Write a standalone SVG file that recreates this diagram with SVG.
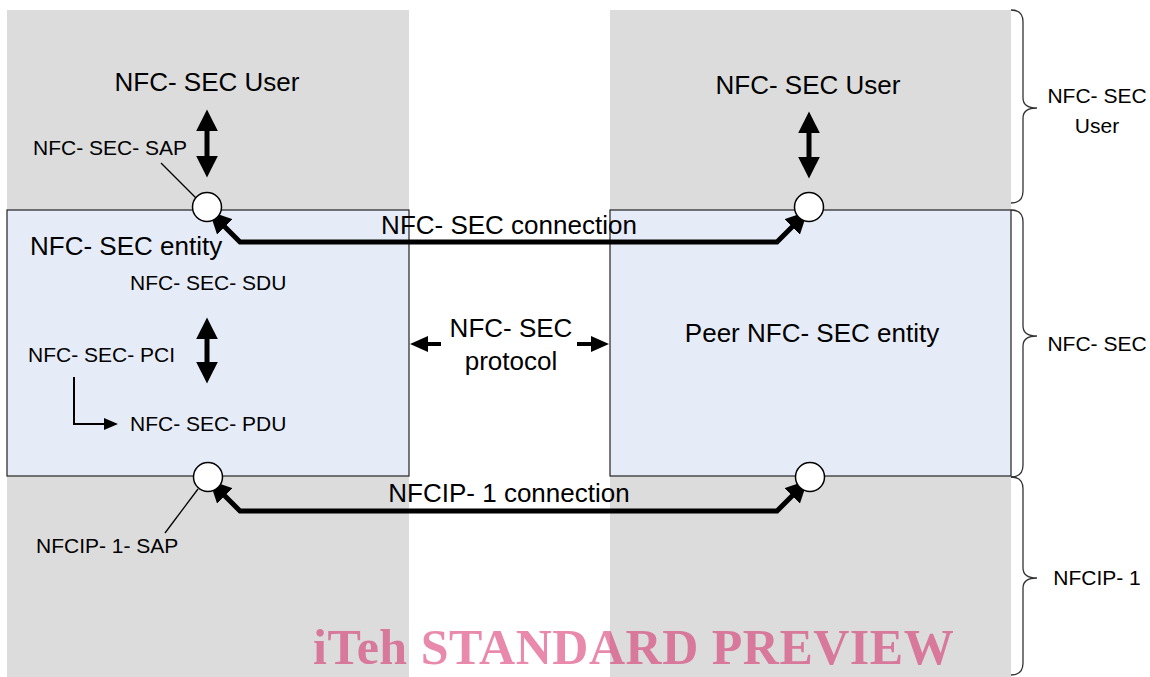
<svg xmlns="http://www.w3.org/2000/svg" width="1150" height="677" viewBox="0 0 1150 677">
<defs>
<style>
.col{fill:#dcdcdc;stroke:none}
.box{fill:#e6ecf7;stroke:#222;stroke-width:1.2}
.sap{fill:#fff;stroke:#000;stroke-width:1.5}
.big{font-family:"Liberation Sans",Arial,sans-serif;font-size:26px;fill:#000}
.sm{font-family:"Liberation Sans",Arial,sans-serif;font-size:21px;fill:#000}
.thick{fill:none;stroke:#000;stroke-width:5;stroke-linejoin:miter}
.med{fill:none;stroke:#000;stroke-width:4}
.thin{fill:none;stroke:#000;stroke-width:1.3}
.brace{fill:none;stroke:#333;stroke-width:1.3}
.wm{font-family:"Liberation Serif","Times New Roman",serif;font-weight:bold;font-size:50px;fill:#d4145a;fill-opacity:0.5;letter-spacing:0.5px}
</style>
<marker id="ah" markerUnits="userSpaceOnUse" markerWidth="22" markerHeight="22" viewBox="0 0 20 20" refX="14" refY="10" orient="auto-start-reverse">
<path d="M0,0 L20,10 L0,20 z" fill="#000"/>
</marker>
<marker id="ahm" markerUnits="userSpaceOnUse" markerWidth="18" markerHeight="16" viewBox="0 0 18 16" refX="12" refY="8" orient="auto-start-reverse">
<path d="M0,0 L18,8 L0,16 z" fill="#000"/>
</marker>
<marker id="ahs" markerUnits="userSpaceOnUse" markerWidth="14" markerHeight="12" viewBox="0 0 14 12" refX="10" refY="6" orient="auto">
<path d="M0,0 L14,6 L0,12 z" fill="#000"/>
</marker>
</defs>

<g id="columns">
<rect class="col" x="7" y="10" width="402" height="667"/>
<rect class="col" x="610" y="10" width="401" height="667"/>
</g>

<g id="entity-left">
<rect class="box" x="7" y="210" width="402" height="266"/>
<text class="big" x="30" y="255">NFC- SEC entity</text>
<text class="sm" x="130" y="290">NFC- SEC- SDU</text>
<text class="sm" x="28" y="362">NFC- SEC- PCI</text>
<text class="sm" x="130" y="431">NFC- SEC- PDU</text>
</g>

<g id="entity-right">
<rect class="box" x="610" y="210" width="401" height="266"/>
<text class="big" x="812" y="342" text-anchor="middle">Peer NFC- SEC entity</text>
</g>

<g id="user-left">
<text class="big" x="207" y="91" text-anchor="middle">NFC- SEC User</text>
</g>
<g id="user-right">
<text class="big" x="808" y="94" text-anchor="middle">NFC- SEC User</text>
</g>

<g id="sap-labels">
<text class="sm" x="33" y="155">NFC- SEC- SAP</text>
<text class="sm" x="36" y="553">NFCIP- 1- SAP</text>
</g>

<g id="protocol">
<text class="big" x="511" y="337" text-anchor="middle">NFC- SEC</text>
<text class="big" x="511" y="370" text-anchor="middle">protocol</text>
</g>

<g id="connectors">
<line class="thick" x1="207" y1="116" x2="207" y2="171" marker-start="url(#ah)" marker-end="url(#ah)"/>
<line class="thick" x1="809" y1="118" x2="809" y2="172" marker-start="url(#ah)" marker-end="url(#ah)"/>
<line class="thick" x1="207" y1="324" x2="207" y2="377" marker-start="url(#ah)" marker-end="url(#ah)"/>
<path class="thick" d="M214,216 L240,242 L777,242 L803,216" marker-start="url(#ah)" marker-end="url(#ah)"/>
<path class="thick" d="M214,485 L240,511 L777,511 L803,485" marker-start="url(#ah)" marker-end="url(#ah)"/>
<line class="med" x1="441" y1="344" x2="416" y2="344" marker-end="url(#ahm)"/>
<line class="med" x1="577" y1="344" x2="603" y2="344" marker-end="url(#ahm)"/>
<path class="thin" d="M74,377 L74,424 L114,424" marker-end="url(#ahs)" style="stroke-width:2"/>
<line class="thin" x1="161" y1="163" x2="197" y2="199"/>
<line class="thin" x1="165" y1="533" x2="198" y2="489"/>
</g>

<g id="saps">
<circle class="sap" cx="207" cy="207" r="14.5"/>
<circle class="sap" cx="809" cy="207" r="14.5"/>
<circle class="sap" cx="208" cy="477" r="14.5"/>
<circle class="sap" cx="810" cy="477" r="14.5"/>
</g>

<g id="connection-labels">
<text class="big" x="509" y="234" text-anchor="middle">NFC- SEC connection</text>
<text class="big" x="509" y="502" text-anchor="middle">NFCIP- 1 connection</text>
</g>

<g id="layer-braces">
<path class="brace" d="M1011,10 Q1023,10 1023,22 L1023,98 Q1023,108 1037,108 Q1023,108 1023,118 L1023,191 Q1023,203 1011,203"/>
<text class="sm" x="1097" y="103" text-anchor="middle">NFC- SEC</text>
<text class="sm" x="1097" y="133" text-anchor="middle">User</text>
<path class="brace" d="M1011,210 Q1023,210 1023,222 L1023,326 Q1023,336 1037,336 Q1023,336 1023,346 L1023,465 Q1023,477 1011,477"/>
<text class="sm" x="1097" y="351" text-anchor="middle">NFC- SEC</text>
<path class="brace" d="M1011,477 Q1023,477 1023,489 L1023,568 Q1023,578 1037,578 Q1023,578 1023,588 L1023,663 Q1023,675 1011,675"/>
<text class="sm" x="1097" y="585" text-anchor="middle">NFCIP- 1</text>
</g>

<text class="wm" x="313" y="664">iTeh STANDARD PREVIEW</text>
</svg>
